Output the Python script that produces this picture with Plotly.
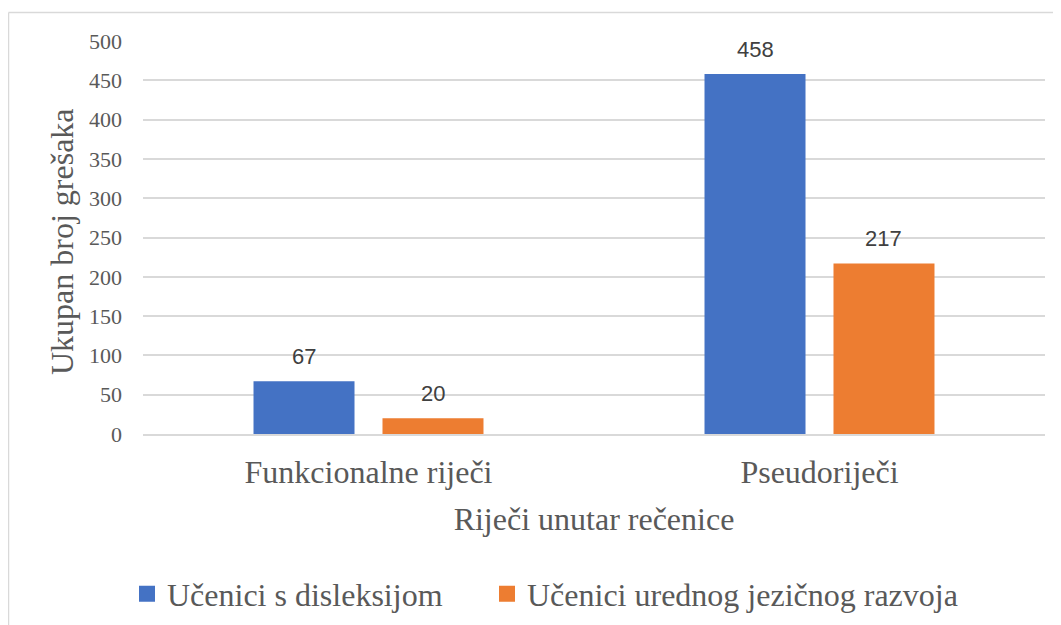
import plotly.graph_objects as go

categories = ["Funkcionalne riječi", "Pseudoriječi"]
series_names = ["Učenici s disleksijom", "Učenici urednog jezičnog razvoja"]
dysl_values = [67, 458]
typical_values = [20, 217]
colors = ["#4472C4", "#ED7D31"]
y_ticks = [0, 50, 100, 150, 200, 250, 300, 350, 400, 450, 500]
x_title = "Riječi unutar rečenice"
y_title = "Ukupan broj grešaka"

OFF = 8  # default page body margin
W, H = 1061 - OFF, 625 - OFF
L, R, T, B = 143 - OFF, 16, 41 - OFF, H - (434 - OFF)
pw, ph = W - L - R, H - T - B

def px_x(p):
    return (p - OFF - L) / pw

def px_y(p):
    return (H - B - (p - OFF)) / ph

GRAY = "#595959"
SERIF = "Times New Roman"
SANS = "Liberation Sans"

fig = go.Figure()
for name, vals, col in zip(series_names, [dysl_values, typical_values], colors):
    fig.add_trace(go.Bar(x=categories, y=vals, name=name, marker_color=col,
                         marker_line_width=0, showlegend=False))
# legend proxies with larger square symbols, each in its own legend box
for i, (name, col) in enumerate(zip(series_names, colors)):
    fig.add_trace(go.Scatter(x=[None], y=[None], mode="markers", name=name,
                             legend="legend" if i == 0 else "legend2",
                             marker=dict(symbol="square", size=16, color=col, line=dict(width=0))))

slot = (1 - 0.428) * pw / len(categories) / 2
for i, vals in enumerate([dysl_values, typical_values]):
    shift = (i - 0.5) * slot
    for c, v in zip(categories, vals):
        fig.add_annotation(x=c, y=v, text=str(v), showarrow=False, xref="x", yref="y",
                           xshift=shift, yshift=10, yanchor="bottom",
                           font=dict(family=SANS, size=22, color="#404040"))

fig.add_annotation(text=y_title, textangle=-90, showarrow=False, xref="paper", yref="paper",
                   x=px_x(62), y=px_y(242), xanchor="center", yanchor="middle",
                   font=dict(family=SERIF, size=32, color=GRAY))

leg_common = dict(orientation="h", y=px_y(594), yanchor="middle", xanchor="left",
                  font=dict(family=SERIF, size=32, color=GRAY), itemwidth=30,
                  borderwidth=0, bgcolor="rgba(0,0,0,0)")

fig.update_layout(
    width=W, height=H,
    margin=dict(l=L, r=R, t=T, b=B, pad=0, autoexpand=False),
    paper_bgcolor="white", plot_bgcolor="white",
    font=dict(family=SERIF, color=GRAY),
    barmode="group", bargap=0.428, bargroupgap=0.217,
    showlegend=True,
    legend=dict(x=px_x(127), **leg_common),
    legend2=dict(x=px_x(487), **leg_common),
    xaxis=dict(title=dict(text=x_title, font=dict(family=SERIF, size=32, color=GRAY),
                          standoff=18),
               tickfont=dict(family=SERIF, size=32, color=GRAY),
               showline=True, linecolor="#d9d9d9", linewidth=1.5, ticks="",
               ticklabelstandoff=9, automargin=False),
    yaxis=dict(range=[0, 500], tickvals=y_ticks,
               tickfont=dict(family=SERIF, size=22, color=GRAY),
               showgrid=True, gridcolor="#d9d9d9", gridwidth=1.5,
               zeroline=False, ticks="", ticklabelstandoff=20, automargin=False),
    shapes=[
        dict(type="line", xref="paper", yref="paper", x0=px_x(8.5), x1=px_x(1061),
             y0=px_y(12.5), y1=px_y(12.5), line=dict(color="#d9d9d9", width=1.5)),
        dict(type="line", xref="paper", yref="paper", x0=px_x(8.5), x1=px_x(8.5),
             y0=px_y(12.5), y1=px_y(625), line=dict(color="#d9d9d9", width=1.5)),
    ],
)

fig.write_html("out.html")
